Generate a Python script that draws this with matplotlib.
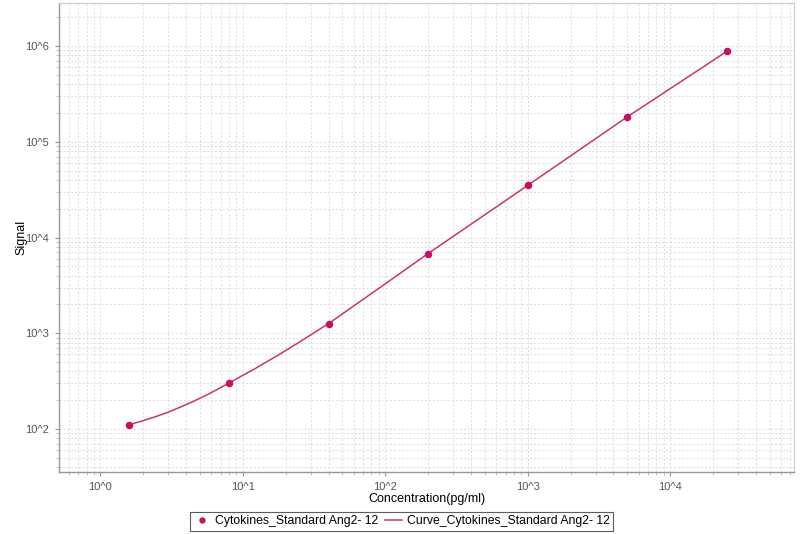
import matplotlib
matplotlib.use("Agg")
import matplotlib.pyplot as plt
from matplotlib.ticker import LogLocator, FuncFormatter, NullFormatter
import numpy as np

plt.rcParams['font.family'] = ['Liberation Sans', 'DejaVu Sans']

# standard points (5-fold dilution series)
conc = [1.6, 8, 40, 200, 1000, 5000, 25000]
signal = [111, 303, 1260, 6800, 35000, 182000, 880000]

# fitted curve, values
curve_conc = [1.6, 2.0, 2.5, 3.0, 3.64, 4.5, 5.6, 6.5, 8, 12, 17.8, 25, 40,
              70, 100, 200, 1000, 5000, 25000]
curve_signal = [111, 122, 136, 150, 169, 194, 227, 255, 302, 421, 593, 809, 1260,
                2260, 3280, 6800, 35000, 182000, 880000]

point_label = 'Cytokines_Standard Ang2- 12'
curve_label = 'Curve_Cytokines_Standard Ang2- 12'

fig = plt.figure(figsize=(8.03, 5.34), dpi=100)
ax = fig.add_axes([0.0735, 0.1161, 0.9153, 0.8783])

ax.set_xscale('log')
ax.set_yscale('log')

line, = ax.plot(curve_conc, curve_signal, color='#cc3377', lw=1.1, zorder=3)
pts, = ax.plot(conc, signal, 'o', color='#c8105f', ms=4.4, zorder=4)

ax.set_xlim(0.513, 74100)
ax.set_ylim(35.5, 2.82e6)

fmt = FuncFormatter(lambda v, p: '10^%d' % round(np.log10(v)))
for axis in (ax.xaxis, ax.yaxis):
    axis.set_major_locator(LogLocator(base=10))
    axis.set_minor_locator(LogLocator(base=10, subs=np.arange(2, 10)))
    axis.set_major_formatter(fmt)
    axis.set_minor_formatter(NullFormatter())

ax.grid(which='both', color='#dddddd', linestyle=(0, (2, 2)), lw=0.7)
ax.set_axisbelow(True)

ax.tick_params(which='major', length=3, width=0.8, color='#999999',
               labelsize=8, labelcolor='#555555', pad=4)
ax.tick_params(which='minor', length=2, width=0.6, color='#bbbbbb')

for side in ('left', 'bottom'):
    ax.spines[side].set_color('#999999')
    ax.spines[side].set_linewidth(1.0)
for side in ('top', 'right'):
    ax.spines[side].set_color('#cccccc')
    ax.spines[side].set_linewidth(0.8)

ax.set_xlabel('Concentration(pg/ml)', fontsize=9, labelpad=1)
ax.set_ylabel('Signal', fontsize=9, labelpad=-1.5)

leg = fig.legend([pts, line], [point_label, curve_label], loc='lower center',
                 bbox_to_anchor=(0.5, -0.006), ncol=2, fontsize=8.8, frameon=True,
                 fancybox=False, edgecolor='#333333', handlelength=1.4,
                 handletextpad=0.4, columnspacing=0.5, borderpad=0.3,
                 markerscale=0.8)
leg.get_frame().set_linewidth(0.8)

fig.savefig('out.png', dpi=100)
